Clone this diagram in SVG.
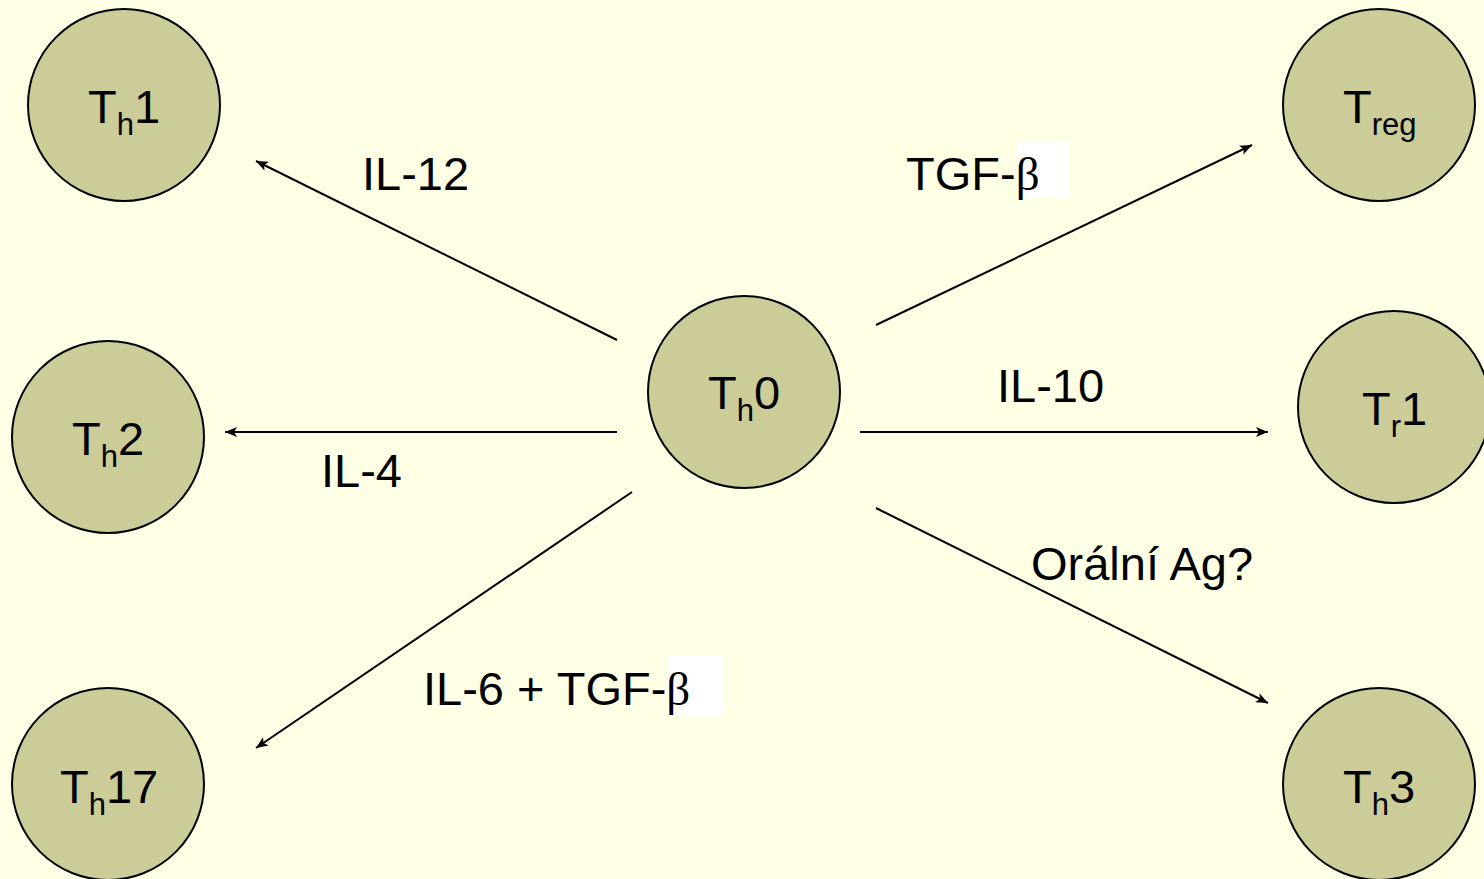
<svg xmlns="http://www.w3.org/2000/svg" width="1484" height="879" viewBox="0 0 1484 879">
<defs>
<marker id="ah" markerUnits="userSpaceOnUse" markerWidth="14" markerHeight="10" refX="12" refY="5" orient="auto">
<path d="M0,0 L12,5 L0,10 L3,5 Z" fill="#000"/>
</marker>
<style>
.node circle{fill:#CCCC99;stroke:#000;stroke-width:2}
.t{font-family:"Liberation Sans",Arial,sans-serif;font-size:47px;fill:#000}
.s{font-size:31px}
.g{font-family:"Liberation Serif","Times New Roman",serif}
.c line{stroke:#000;stroke-width:2;marker-end:url(#ah)}
</style>
</defs>
<rect width="1484" height="879" fill="#FFFFE5"/>
<g class="c" id="connectors">
<line x1="617" y1="340" x2="256" y2="161"/>
<line x1="876" y1="325" x2="1252" y2="145"/>
<line x1="617" y1="432" x2="225" y2="432"/>
<line x1="860" y1="432" x2="1268" y2="432"/>
<line x1="632" y1="492" x2="256" y2="748"/>
<line x1="876" y1="508" x2="1268" y2="703"/>
</g>
<g id="labels">
<text class="t" x="362" y="190">IL-12</text>
<rect x="1017" y="142" width="52" height="56" fill="#fff"/>
<text class="t" x="906" y="190">TGF-<tspan class="g">β</tspan></text>
<text class="t" x="997" y="402">IL-10</text>
<text class="t" x="321" y="487">IL-4</text>
<text class="t" x="1031" y="580">Orální Ag?</text>
<rect x="668" y="656" width="55" height="59" fill="#fff"/>
<text class="t" x="423" y="705">IL-6 + TGF-<tspan class="g">β</tspan></text>
</g>
<g class="node" id="th1"><circle cx="124" cy="105" r="96"/><text class="t" x="88" y="123">T<tspan class="s" dy="12">h</tspan><tspan dy="-12">1</tspan></text></g>
<g class="node" id="treg"><circle cx="1379" cy="105" r="96"/><text class="t" x="1343" y="123">T<tspan class="s" dy="12">reg</tspan></text></g>
<g class="node" id="th0"><circle cx="744" cy="392" r="96"/><text class="t" x="708" y="409">T<tspan class="s" dy="12">h</tspan><tspan dy="-12">0</tspan></text></g>
<g class="node" id="th2"><circle cx="108" cy="437" r="96"/><text class="t" x="72" y="455">T<tspan class="s" dy="12">h</tspan><tspan dy="-12">2</tspan></text></g>
<g class="node" id="tr1"><circle cx="1394" cy="407" r="96"/><text class="t" x="1362" y="425">T<tspan class="s" dy="12">r</tspan><tspan dy="-12">1</tspan></text></g>
<g class="node" id="th17"><circle cx="108" cy="784" r="96"/><text class="t" x="60" y="803">T<tspan class="s" dy="12">h</tspan><tspan dy="-12">17</tspan></text></g>
<g class="node" id="th3"><circle cx="1379" cy="784" r="96"/><text class="t" x="1343" y="803">T<tspan class="s" dy="12">h</tspan><tspan dy="-12">3</tspan></text></g>
</svg>
